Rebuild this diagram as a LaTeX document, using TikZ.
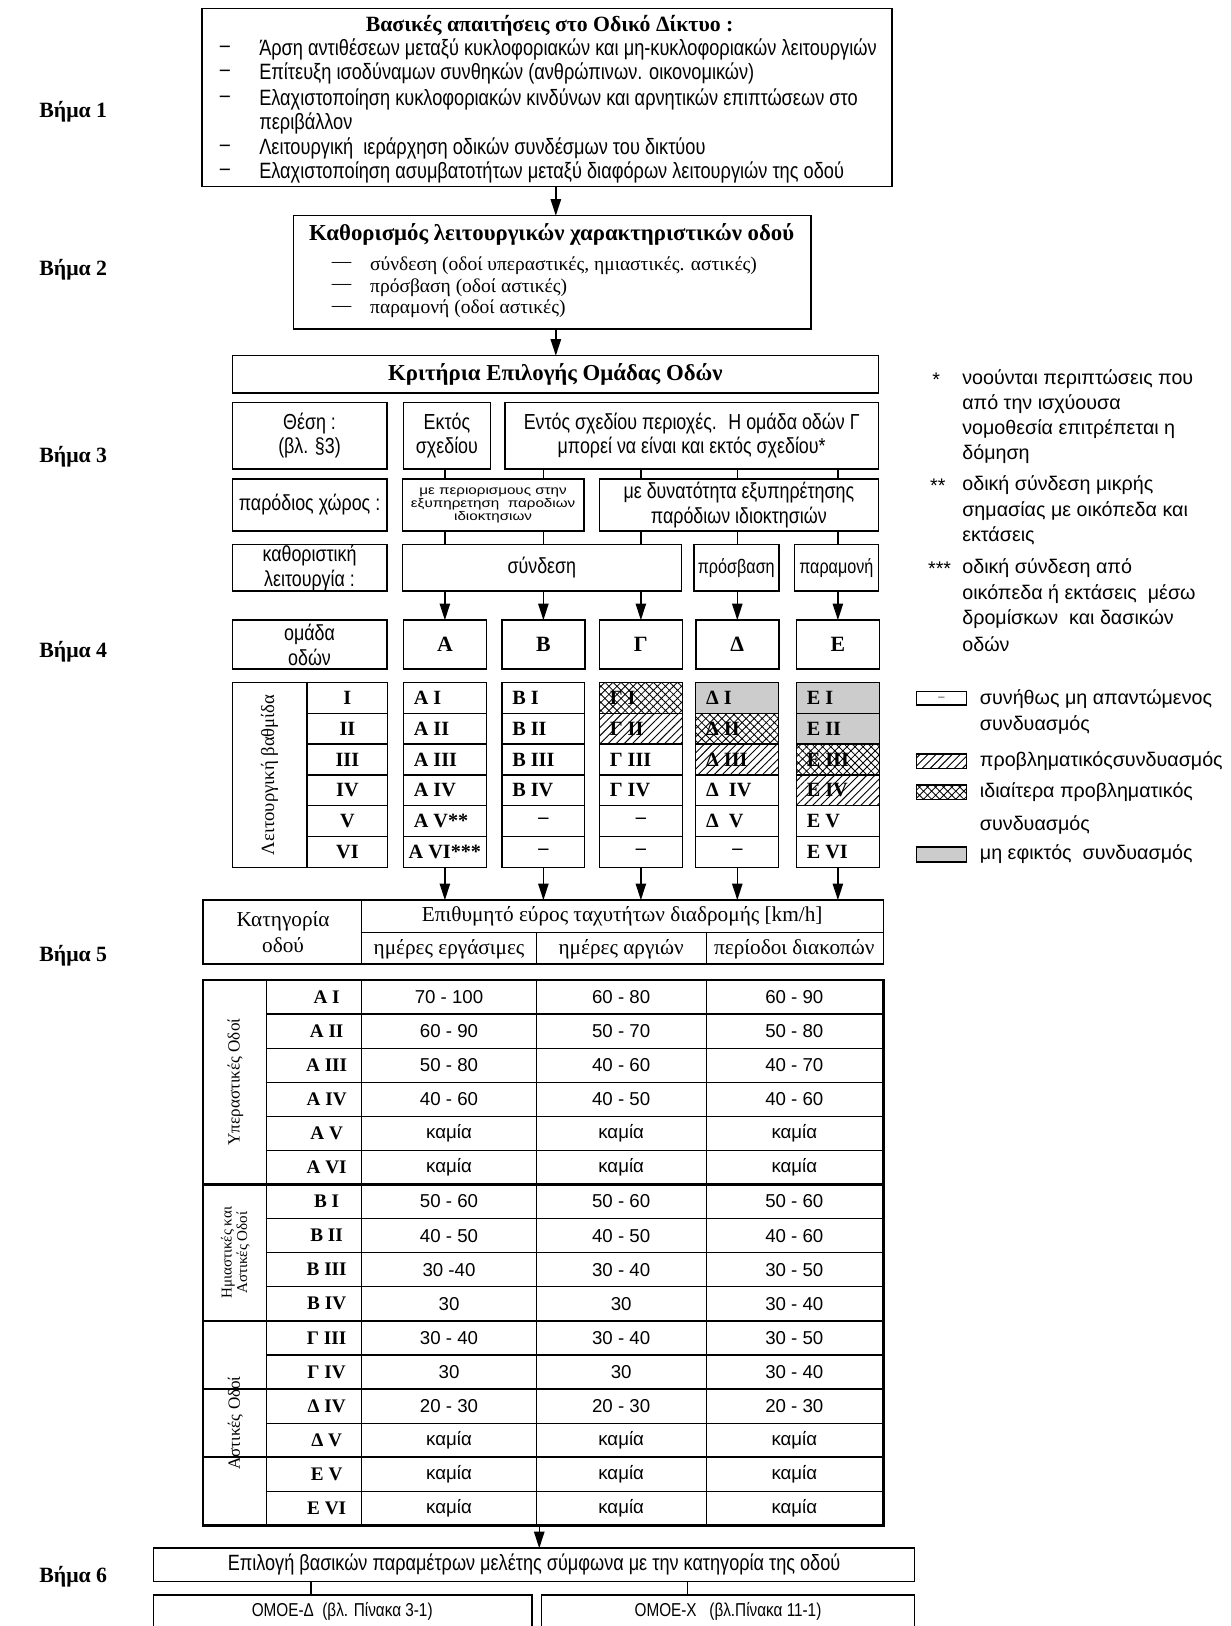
\documentclass[tikz,border=0pt]{standalone}
\usepackage{fontspec}
\setmainfont{Liberation Serif}
\newfontfamily\nar[FakeStretch=0.82]{Liberation Sans}
\newfontfamily\lsans{Liberation Sans}
\newfontfamily\wsans[FakeStretch=1.22]{Liberation Sans}
\usetikzlibrary{arrows.meta,patterns.meta}
\newcommand{\fz}[2]{\fontsize{#1}{#2}\selectfont}
\tikzset{
  box/.style={draw,line width=1.5pt,inner sep=0pt,outer sep=0pt},
  cellbox/.style={draw,line width=1.2pt,inner sep=0pt,outer sep=0pt,minimum height=29.75pt},
  arr/.style={line width=1.4pt,-{Triangle[length=16pt,width=10pt]}},
  tickline/.style={line width=1.5pt},
  tx/.style={inner sep=0pt,outer sep=0pt},
  stepf/.style={tx,font=\fz{21}{25}\bfseries},
  bhead/.style={tx,font=\fz{21}{24}\bfseries},
  btext/.style={tx,font=\nar\fz{21.4}{24}},
  bhead2/.style={tx,font=\fz{22}{24}\bfseries},
  bhead3/.style={tx,font=\fz{22}{24}\bfseries},
  btext2/.style={tx,font=\fz{18.8}{21}},
  sthree/.style={tx,font=\nar\fz{21}{24},align=center},
  ssmall/.style={tx,font=\wsans\fz{12}{12.5},align=center},
  snar/.style={tx,font=\nar\fz{19}{22},align=center},
  gbold/.style={tx,font=\fz{21}{24}\bfseries},
  mtext/.style={tx,font=\fz{19.5}{22}\bfseries},
  hdr/.style={tx,font=\fz{20.5}{25},align=center},
  val/.style={tx,font=\lsans\fz{18}{20}},
  catl/.style={tx,font=\fz{18.5}{20}\bfseries},
  leg/.style={tx,font=\lsans\fz{19}{22},anchor=west},
  hatchp/.style={pattern={Lines[angle=45,distance=5.5pt,line width=0.9pt]}},
  xhatchp/.style={pattern={Hatch[angle=45,distance=5.5pt,line width=0.8pt]}},
  grayp/.style={fill=gray!40},
  thinl/.style={line width=1.1pt},
  thickl/.style={line width=2.2pt}
}
% box by corners: opts, name, x1, y1, x2, y2
\newcommand{\bx}[6][]{\node[box,minimum width={#5pt-#3pt},minimum height={#6pt-#4pt},#1] (#2) at ({(#3+#5)/2},{(#4+#6)/2}) {};}
% matrix cell: name, x1, x2, row, text, style
\newcommand{\mcell}[6]{\node[cellbox,minimum width={#3pt-#2pt},#6] (#1) at ({(#2+#3)/2},{658+(#4-0.5)*29.75}) {};
  \node[mtext,anchor=west] (#1t) at ([xshift=10pt]#1.west) {#5};}
\newcommand{\dcell}[4]{\node[cellbox,minimum width={#3pt-#2pt}] (#1) at ({(#2+#3)/2},{658+(#4-0.5)*29.75}) {};
  \node[mtext] (#1t) at (#1.center) {–};}
\begin{document}
\begin{tikzpicture}[x=1pt,y=-1pt]
\fill[white] (0,0) rectangle (1187,1568);
\useasboundingbox (0,0) rectangle (1187,1568);

% ---------- step labels
\foreach \n/\yy in {1/108,2/260,3/440,4/628,5/922,6/1520}
  \node[stepf,anchor=west] (st\n) at (38,\yy) {Βήμα \n};

% column coordinates
\coordinate (cA) at (429,0);
\coordinate (cB) at (524,0);
\coordinate (cC) at (618,0);
\coordinate (cD) at (711,0);
\coordinate (cE) at (808,0);
\coordinate (cM) at (536,0);

% ---------- step 1
\bx{b1}{195}{8}{860}{180}
\node[bhead] (b1h) at (530,25) {Βασικές απαιτήσεις στο Οδικό Δίκτυο :};
\foreach \yy/\t [count=\i] in {48/{Άρση αντιθέσεων μεταξύ κυκλοφοριακών και μη-κυκλοφοριακών λειτουργιών},
   71/{Επίτευξη ισοδύναμων συνθηκών (ανθρώπινων. οικονομικών)},
   96/{Ελαχιστοποίηση κυκλοφοριακών κινδύνων και αρνητικών επιπτώσεων στο},
   143/{Λειτουργική \ ιεράρχηση οδικών συνδέσμων του δικτύου},
   166/{Ελαχιστοποίηση ασυμβατοτήτων μεταξύ διαφόρων λειτουργιών της οδού}}{
  \node[btext,anchor=west] (b1d\i) at (212,\yy) {–};
  \node[btext,anchor=west] (b1i\i) at (250,\yy) {\t};
}
\node[btext,anchor=west] (b1x) at (250,119) {περιβάλλον};

% ---------- step 2
\bx{b2}{283}{208}{782}{317}
\node[bhead2] (b2h) at (532,226) {Καθορισμός λειτουργικών χαρακτηριστικών οδού};
\foreach \yy/\t [count=\i] in {256/{σύνδεση (οδοί υπεραστικές, ημιαστικές. αστικές)},
   277/{πρόσβαση (οδοί αστικές)}, 298/{παραμονή (οδοί αστικές)}}{
  \node[btext2,anchor=west] (b2d\i) at (320,\yy) {—};
  \node[btext2,anchor=west] (b2i\i) at (357,\yy) {\t};
}
\draw[arr] (b1.south -| cM) -- (b2.north -| cM);

% ---------- step 3
\bx{hd}{224}{343}{847}{379}
\node[bhead3] (hdt) at (hd.center) {Κριτήρια Επιλογής Ομάδας Οδών};
\draw[arr] (b2.south -| cM) -- (hd.north -| cM);

\bx{th}{224}{388}{373}{452}
\node[sthree] (tht) at (th.center) {Θέση :\\(βλ. §3)};
\bx{ek}{389}{388}{473}{452}
\node[sthree] (ekt) at (ek.center) {Εκτός\\σχεδίου};
\bx{en}{487}{388}{847}{452}
\node[sthree] (ent) at (en.center) {Εντός σχεδίου περιοχές. \ Η ομάδα οδών Γ\\μπορεί να είναι και εκτός σχεδίου*};

\bx{pc}{224}{462}{373}{512}
\node[sthree] (pct) at (pc.center) {παρόδιος χώρος :};
\bx{pr}{388}{462}{563}{512}
\node[ssmall] (prt) at (pr.center) {με περιορισμους στην\\εξυπηρετηση \ παροδιων\\ιδιοκτησιων};
\bx{dy}{578}{462}{847}{512}
\node[sthree] (dyt) at (dy.center) {με δυνατότητα εξυπηρέτησης\\παρόδιων ιδιοκτησιών};

\bx{ka}{224}{525}{373}{570}
\node[sthree] (kat) at (ka.center) {καθοριστική\\λειτουργία :};
\bx{sy}{388}{525}{657}{570}
\node[sthree] (syt) at (sy.center) {σύνδεση};
\bx{ps}{669}{525}{751}{570}
\node[snar] (pst) at (ps.center) {πρόσβαση};
\bx{pm}{766}{525}{847}{570}
\node[snar] (pmt) at (pm.center) {παραμονή};

\draw[tickline] (ek.south -| cA) -- (pr.north -| cA);
\draw[tickline] (en.south -| cB) -- (pr.north -| cB);
\draw[tickline] (en.south -| cC) -- (dy.north -| cC);
\draw[tickline] (en.south -| cD) -- (dy.north -| cD);
\draw[tickline] (en.south -| cE) -- (dy.north -| cE);
\draw[tickline] (pr.south -| cA) -- (sy.north -| cA);
\draw[tickline] (pr.south -| cB) -- (sy.north -| cB);
\draw[tickline] (dy.south -| cC) -- (sy.north -| cC);
\draw[tickline] (dy.south -| cD) -- (ps.north -| cD);
\draw[tickline] (dy.south -| cE) -- (pm.north -| cE);

% ---------- step 4
\bx{go}{224}{598}{373}{645}
\node[sthree] (got) at (go.center) {ομάδα\\οδών};
\bx{gA}{389}{598}{469}{645} \node[gbold] (gAt) at (gA.center) {Α};
\bx{gB}{484}{598}{564}{645} \node[gbold] (gBt) at (gB.center) {Β};
\bx{gC}{578}{598}{658}{645} \node[gbold] (gCt) at (gC.center) {Γ};
\bx{gD}{671}{598}{751}{645} \node[gbold] (gDt) at (gD.center) {Δ};
\bx{gE}{768}{598}{848}{645} \node[gbold] (gEt) at (gE.center) {Ε};

\draw[arr] (sy.south -| cA) -- (gA.north);
\draw[arr] (sy.south -| cB) -- (gB.north);
\draw[arr] (sy.south -| cC) -- (gC.north);
\draw[arr] (ps.south -| cD) -- (gD.north);
\draw[arr] (pm.south -| cE) -- (gE.north);

% left block of matrix
\node[cellbox,minimum width=72pt,minimum height=178.5pt] (lb) at (260,747.25) {};
\node[tx,font=\fz{18}{20},rotate=90] (lbt) at (lb.center) {Λειτουργική βαθμίδα};
\foreach \r [count=\i] in {I,II,III,IV,V,VI}{
  \node[cellbox,minimum width=78pt] (n\i) at (335,{658+(\i-0.5)*29.75}) {};
  \node[mtext] (n\i t) at (n\i.center) {\r};
}
% column A
\mcell{mA1}{389}{469}{1}{Α I}{}
\mcell{mA2}{389}{469}{2}{Α II}{}
\mcell{mA3}{389}{469}{3}{Α III}{}
\mcell{mA4}{389}{469}{4}{Α IV}{}
\mcell{mA5}{389}{469}{5}{Α V**}{}
\node[cellbox,minimum width=80pt] (mA6) at (429,{658+5.5*29.75}) {};
\node[mtext] (mA6t) at (mA6.center) {Α VI***};
% column B
\mcell{mB1}{484}{564}{1}{Β I}{}
\mcell{mB2}{484}{564}{2}{Β II}{}
\mcell{mB3}{484}{564}{3}{Β III}{}
\mcell{mB4}{484}{564}{4}{Β IV}{}
\dcell{mB5}{484}{564}{5}
\dcell{mB6}{484}{564}{6}
% column Gamma
\mcell{mC1}{578}{658}{1}{Γ I}{xhatchp}
\mcell{mC2}{578}{658}{2}{Γ II}{hatchp}
\mcell{mC3}{578}{658}{3}{Γ III}{}
\mcell{mC4}{578}{658}{4}{Γ IV}{}
\dcell{mC5}{578}{658}{5}
\dcell{mC6}{578}{658}{6}
% column Delta
\mcell{mD1}{671}{751}{1}{Δ I}{grayp}
\mcell{mD2}{671}{751}{2}{Δ II}{xhatchp}
\mcell{mD3}{671}{751}{3}{Δ III}{hatchp}
\mcell{mD4}{671}{751}{4}{Δ \ IV}{}
\mcell{mD5}{671}{751}{5}{Δ \ V}{}
\dcell{mD6}{671}{751}{6}
% column E
\mcell{mE1}{768}{848}{1}{Ε I}{grayp}
\mcell{mE2}{768}{848}{2}{Ε II}{grayp}
\mcell{mE3}{768}{848}{3}{Ε III}{xhatchp}
\mcell{mE4}{768}{848}{4}{Ε IV}{hatchp}
\mcell{mE5}{768}{848}{5}{Ε V}{}
\mcell{mE6}{768}{848}{6}{Ε VI}{}

% ---------- legend (footnotes)
\node[leg] (f1m) at (899,366) {*};
\node[leg] (f1a) at (928,366) {νοούνται περιπτώσεις που};
\node[leg] (f1b) at (928,390) {από την ισχύουσα};
\node[leg] (f1c) at (928,414) {νομοθεσία επιτρέπεται η};
\node[leg] (f1d) at (928,438) {δόμηση};
\node[leg] (f2m) at (897,468) {**};
\node[leg] (f2a) at (928,468) {οδική σύνδεση μικρής};
\node[leg] (f2b) at (928,493) {σημασίας με οικόπεδα και};
\node[leg] (f2c) at (928,517) {εκτάσεις};
\node[leg] (f3m) at (895,548) {***};
\node[leg] (f3a) at (928,548) {οδική σύνδεση από};
\node[leg] (f3b) at (928,573) {οικόπεδα ή εκτάσεις \ μέσω};
\node[leg] (f3c) at (928,597) {δρομίσκων \ και δασικών};
\node[leg] (f3d) at (928,621) {οδών};

% pattern legend
\bx{lg1}{884}{667}{932}{680}
\node[tx,font=\fz{12}{12}] (lg1t) at (lg1.center) {–};
\node[leg] (lg1a) at (945,674) {συνήθως μη απαντώμενος};
\node[leg] (lg1b) at (945,699) {συνδυασμός};
\bx[hatchp]{lg2}{884}{727}{932}{741}
\node[leg] (lg2a) at (945,734) {προβληματικόςσυνδυασμός};
\bx[xhatchp]{lg3}{884}{757}{932}{771}
\node[leg] (lg3a) at (945,764) {ιδιαίτερα προβληματικός};
\node[leg] (lg3b) at (945,796) {συνδυασμός};
\bx[grayp]{lg4}{884}{817}{932}{831}
\node[leg] (lg4a) at (945,824) {μη εφικτός \ συνδυασμός};

% ---------- step 5 header table
\node[box,line width=1.8pt,minimum width=656pt,minimum height=62pt] (t5) at (524,899) {};
\draw[thinl] (349,868) -- (349,930);
\draw[thinl] (349,899) -- (852,899);
\draw[thinl] (517,899) -- (517,930);
\draw[thinl] (681,899) -- (681,930);
\node[hdr] (t5k) at (273,899) {Κατηγορία\\οδού};
\node[hdr] (t5e) at (600,884) {Επιθυμητό εύρος ταχυτήτων διαδρομής [km/h]};
\node[hdr] (t5a) at (433,915) {ημέρες εργάσιμες};
\node[hdr] (t5b) at (599,915) {ημέρες αργιών};
\node[hdr] (t5c) at (766,915) {περίοδοι διακοπών};

\draw[arr] (mA6.south) -- (mA6.south |- t5.north);
\draw[arr] (mB6.south) -- (mB6.south |- t5.north);
\draw[arr] (mC6.south) -- (mC6.south |- t5.north);
\draw[arr] (mD6.south) -- (mD6.south |- t5.north);
\draw[arr] (mE6.south) -- (mE6.south |- t5.north);

% ---------- step 5 main table
\node[box,line width=2.4pt,minimum width=656pt,minimum height=526pt] (tb) at (524,1208) {};
\foreach \i in {1,2,3,4,5,7,8,9,11,13,15}
  \draw[thinl] (257,{945+\i*32.875}) -- (852,{945+\i*32.875});
\foreach \i in {6,10,12,14}
  \draw[thickl] (196,{945+\i*32.875}) -- (852,{945+\i*32.875});
\draw[thinl] (257,945) -- (257,1471);
\draw[thinl] (349,945) -- (349,1471);
\draw[thinl] (517,945) -- (517,1471);
\draw[thinl] (681,945) -- (681,1471);
\node[tx,font=\fz{16.5}{19},rotate=90] (ga) at (227,{945+3*32.875}) {Υπεραστικές Οδοί};
\node[tx,font=\fz{14.5}{15},rotate=90,align=center] (gb) at (227,{945+8*32.875}) {Ημιαστικές και\\Αστικές Οδοί};
\node[tx,font=\fz{16.5}{19},rotate=90] (gc) at (227,{945+13*32.875}) {Αστικές Οδοί};
\foreach \lab/\va/\vb/\vc [count=\i] in {
  {Α I}/{70 - 100}/{60 - 80}/{60 - 90},
  {Α II}/{60 - 90}/{50 - 70}/{50 - 80},
  {Α III}/{50 - 80}/{40 - 60}/{40 - 70},
  {Α IV}/{40 - 60}/{40 - 50}/{40 - 60},
  {Α V}/{καμία}/{καμία}/{καμία},
  {Α VI}/{καμία}/{καμία}/{καμία},
  {Β I}/{50 - 60}/{50 - 60}/{50 - 60},
  {Β II}/{40 - 50}/{40 - 50}/{40 - 60},
  {Β III}/{30 -40}/{30 - 40}/{30 - 50},
  {Β IV}/{30}/{30}/{30 - 40},
  {Γ III}/{30 - 40}/{30 - 40}/{30 - 50},
  {Γ IV}/{30}/{30}/{30 - 40},
  {Δ IV}/{20 - 30}/{20 - 30}/{20 - 30},
  {Δ V}/{καμία}/{καμία}/{καμία},
  {Ε V}/{καμία}/{καμία}/{καμία},
  {Ε VI}/{καμία}/{καμία}/{καμία}}{
  \pgfmathsetmacro\yy{945+(\i-0.5)*32.875}
  \node[catl] (k\i) at (315,\yy) {\lab};
  \node[val] (va\i) at (433,\yy) {\va};
  \node[val] (vb\i) at (599,\yy) {\vb};
  \node[val] (vc\i) at (766,\yy) {\vc};
}

% ---------- step 6
\coordinate (c6) at (520,0);
\coordinate (c6a) at (300,0);
\coordinate (c6b) at (663,0);
\bx{s6}{148}{1493}{882}{1525}
\node[tx,font=\nar\fz{21.3}{24}] (s6t) at (s6.center) {Επιλογή βασικών παραμέτρων μελέτης σύμφωνα με την κατηγορία της οδού};
\draw[arr] (tb.south -| c6) -- (s6.north -| c6);
\bx{od}{148}{1538}{513}{1571}
\bx{ox}{522}{1538}{882}{1571}
\node[tx,font=\nar\fz{18}{20}] (odt) at (330,1554) {ΟΜΟΕ-Δ \ (βλ. Πίνακα 3-1)};
\node[tx,font=\nar\fz{18}{20}] (oxt) at (702,1554) {ΟΜΟΕ-Χ \ \ (βλ.Πίνακα 11-1)};
\draw[tickline] (s6.south -| c6a) -- (od.north -| c6a);
\draw[tickline] (s6.south -| c6b) -- (ox.north -| c6b);
\end{tikzpicture}
\end{document}
